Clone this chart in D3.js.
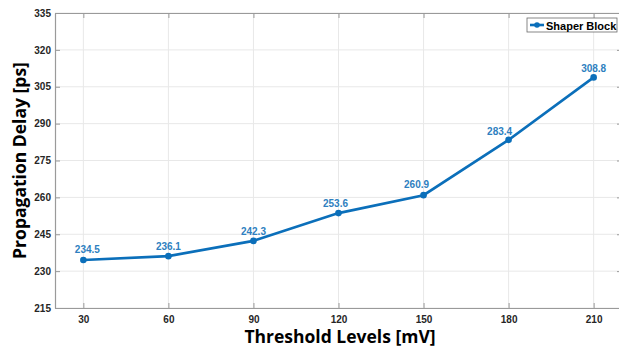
<!DOCTYPE html>
<html><head><meta charset="utf-8">
<script src="https://cdn.jsdelivr.net/npm/d3@7"></script>
<style>body{margin:0;background:#fff;} svg{display:block;}</style>
</head><body>
<svg id="c" width="619" height="349"></svg>
<script>
const thresholds = [30, 60, 90, 120, 150, 180, 210];
const delays = [234.5, 236.1, 242.3, 253.6, 260.9, 283.4, 308.8];
const xTicks = [30, 60, 90, 120, 150, 180, 210];
const yTicks = [215, 230, 245, 260, 275, 290, 305, 320, 335];
const seriesName = "Shaper Block";
const xTitle = "Threshold Levels [mV]";
const yTitle = "Propagation Delay [ps]";

const svg = d3.select("#c");
const L = 55, R = 622, T = 13, B = 308;
const x = d3.scaleLinear().domain([20, 220]).range([L, R]);
const y = d3.scaleLinear().domain([215, 335]).range([B, T]);
const color = "#0b6fba";

// grid
const g = svg.append("g");
g.selectAll(".gx").data(xTicks).enter().append("line")
  .attr("x1", d => x(d)).attr("x2", d => x(d)).attr("y1", T).attr("y2", B)
  .attr("stroke", "#e8e8e8").attr("stroke-width", 1);
g.selectAll(".gy").data(yTicks).enter().append("line")
  .attr("x1", L).attr("x2", R).attr("y1", d => y(d)).attr("y2", d => y(d))
  .attr("stroke", "#e8e8e8").attr("stroke-width", 1);

// axes
const tickFont = "bold 10px Arial, 'Liberation Sans', sans-serif";
const xa = svg.append("g").attr("transform", `translate(0,${B})`)
  .call(d3.axisBottom(x).tickValues(xTicks).tickSizeInner(-5).tickSizeOuter(0).tickPadding(8));
const xt = svg.append("g").attr("transform", `translate(0,${T})`)
  .call(d3.axisTop(x).tickValues(xTicks).tickSizeInner(-5).tickSizeOuter(0).tickFormat(""));
const ya = svg.append("g").attr("transform", `translate(${L},0)`)
  .call(d3.axisLeft(y).tickValues(yTicks).tickSizeInner(-5).tickSizeOuter(0).tickPadding(4));
const yr = svg.append("g").attr("transform", `translate(${R},0)`)
  .call(d3.axisRight(y).tickValues(yTicks).tickSizeInner(-5).tickSizeOuter(0).tickFormat(""));
[xa, xt, ya, yr].forEach(a => {
  a.selectAll("path").attr("stroke", "#9a9a9a").attr("stroke-width", 1.2);
  a.selectAll("line").attr("stroke", "#9a9a9a");
  a.selectAll("text").style("font", tickFont).attr("fill", "#262626");
});

// line
svg.append("path").datum(thresholds.map((t, i) => [t, delays[i]]))
  .attr("fill", "none").attr("stroke", color).attr("stroke-width", 2.6)
  .attr("d", d3.line().x(d => x(d[0])).y(d => y(d[1])));
svg.selectAll(".pt").data(delays).enter().append("circle")
  .attr("cx", (d, i) => x(thresholds[i])).attr("cy", d => y(d)).attr("r", 3.3).attr("fill", color);
// small nudges of the value labels, as in the original
const labelNudge = [4, 0, 0, -3, -7, -9, 0];
const labelRise = [7, 6, 6, 6, 7, 5, 5];
svg.selectAll(".lab").data(delays).enter().append("text")
  .attr("x", (d, i) => x(thresholds[i]) + labelNudge[i]).attr("y", (d, i) => y(d) - labelRise[i])
  .attr("text-anchor", "middle").style("font", "bold 10px Arial, 'Liberation Sans', sans-serif")
  .attr("fill", "#2e7fc0").text(d => d.toFixed(1));

// legend
const lg = svg.append("g");
lg.append("rect").attr("x", 527).attr("y", 18).attr("width", 90).attr("height", 14)
  .attr("fill", "#fff").attr("stroke", "#6a6a6a").attr("stroke-width", 0.8);
lg.append("line").attr("x1", 530).attr("x2", 544).attr("y1", 25).attr("y2", 25)
  .attr("stroke", color).attr("stroke-width", 2.6);
lg.append("circle").attr("cx", 537).attr("cy", 25).attr("r", 2.8).attr("fill", color);
lg.append("text").attr("x", 546).attr("y", 29.5)
  .style("font", "bold 11px Arial, 'Liberation Sans', sans-serif").attr("fill", "#000").text(seriesName);

// titles
svg.append("text").attr("x", 340).attr("y", 343).attr("text-anchor", "middle")
  .style("font", "bold 17.5px 'Open Sans', Calibri, sans-serif").attr("fill", "#000").text(xTitle);
svg.append("text").attr("transform", `translate(26,${(T + B) / 2}) rotate(-90)`).attr("text-anchor", "middle")
  .style("font", "bold 17.5px 'Open Sans', Calibri, sans-serif").attr("fill", "#000").text(yTitle);
</script>
</body></html>
